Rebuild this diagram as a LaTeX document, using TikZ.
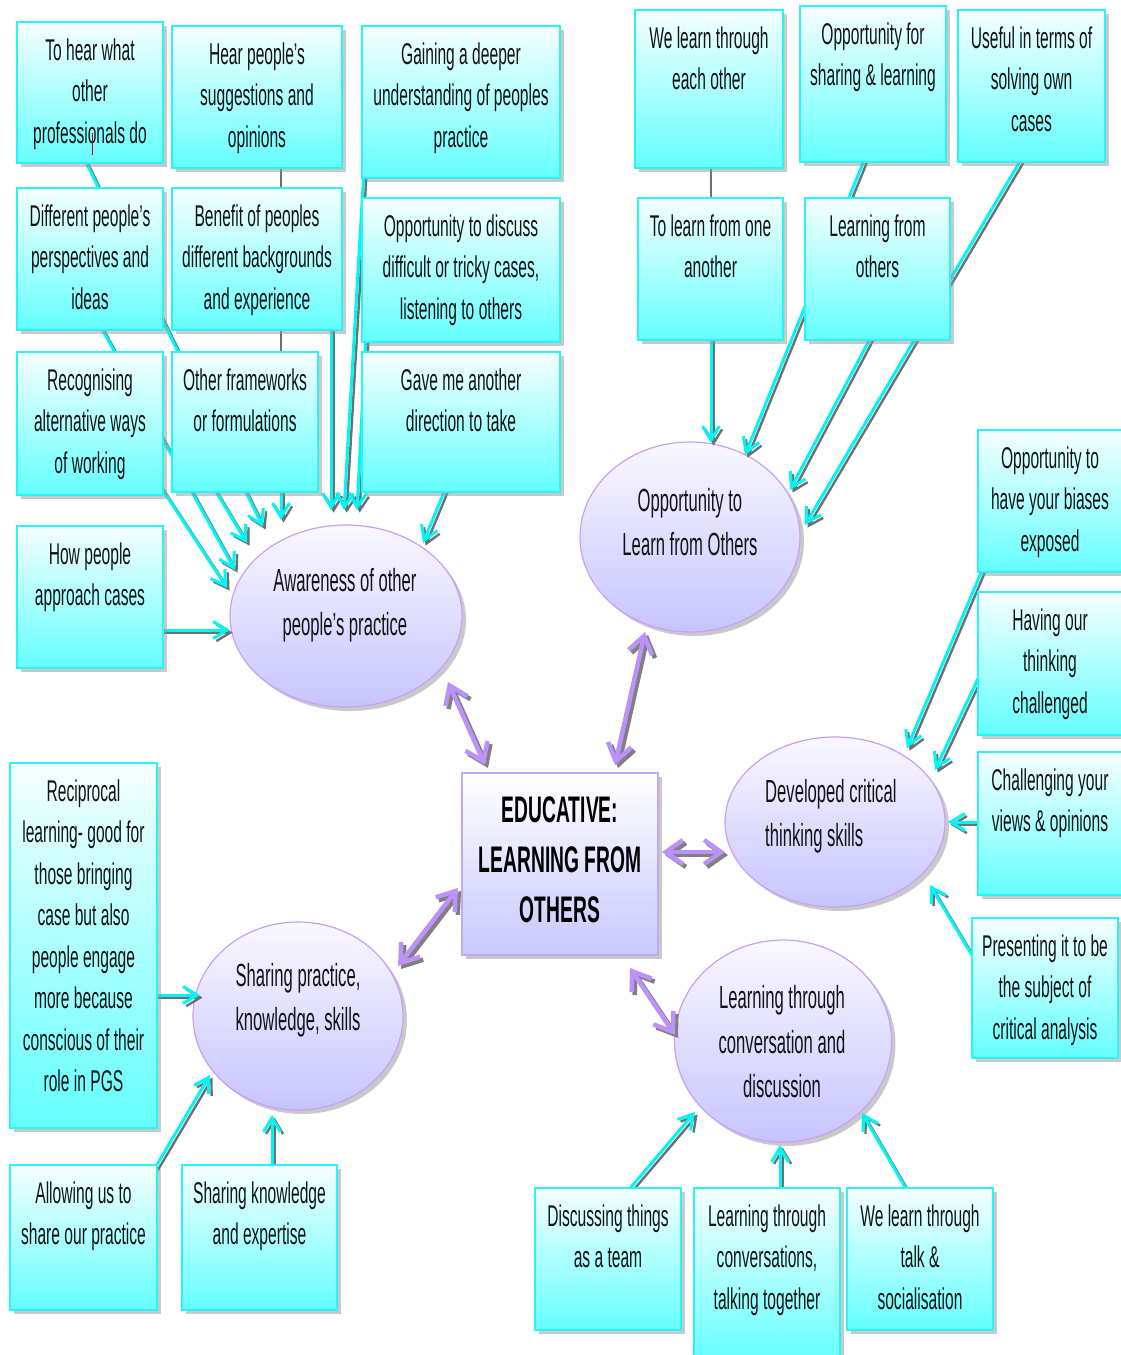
\documentclass[tikz,border=0pt]{standalone}
\usepackage{fontspec}
\newfontfamily\narrowsans{Liberation Sans}[FakeStretch=0.52]
\usetikzlibrary{arrows.meta,shadows,shapes.geometric}

\definecolor{boxtop}{RGB}{246,255,255}
\definecolor{boxbot}{RGB}{100,255,255}
\definecolor{boxline}{RGB}{40,245,245}
\definecolor{ovtop}{RGB}{250,248,255}
\definecolor{ovbot}{RGB}{198,196,255}
\definecolor{ovline}{RGB}{200,160,245}
\definecolor{hubtop}{RGB}{255,255,255}
\definecolor{hubbot}{RGB}{200,200,255}
\definecolor{hubline}{RGB}{196,168,240}
\definecolor{linkcol}{RGB}{0,245,245}
\definecolor{linkshade}{RGB}{112,112,112}
\definecolor{hubarrow}{RGB}{190,145,250}
\definecolor{ink}{RGB}{20,20,20}

\pgfdeclarelayer{ovals}
\pgfdeclarelayer{links}
\pgfsetlayers{ovals,links,main}

\tikzset{
  softshadow/.style={drop shadow={shadow xshift=4pt, shadow yshift=-4pt, fill=black!42}},
  cbox/.style={rectangle, draw=boxline, line width=1.6pt, top color=boxtop, bottom color=boxbot,
    inner sep=0pt, outer sep=0pt, anchor=north west, softshadow},
  oval/.style={ellipse, draw=ovline, line width=1.2pt, top color=ovtop, bottom color=ovbot,
    inner sep=0pt, outer sep=0pt, softshadow},
  hubbox/.style={rectangle, draw=hubline, line width=1.4pt, top color=hubtop, bottom color=hubbot,
    inner sep=0pt, outer sep=0pt, anchor=north west, softshadow},
  boxtext/.style={font=\narrowsans\fontsize{30}{41.5}\selectfont, text=ink, align=center,
    inner sep=0pt, anchor=north},
  ovaltext/.style={font=\narrowsans\fontsize{32}{44.5}\selectfont, text=ink, align=center, inner sep=0pt},
  hubtext/.style={font=\narrowsans\bfseries\fontsize{37}{50}\selectfont, text=black, align=center, inner sep=0pt},
  feed/.style={draw=linkcol, line width=3pt, -{Straight Barb[length=14pt,width=17pt]}},
  feedshade/.style={feed, draw=linkshade, line width=2.4pt, transform canvas={shift={(2.6pt,-2.6pt)}}},
  tie/.style={draw=linkshade, line width=2pt},
  twoway/.style={draw=hubarrow, line width=4.5pt,
    {Straight Barb[length=17pt,width=24pt]}-{Straight Barb[length=17pt,width=24pt]}},
  twowayshade/.style={twoway, draw=black!50, transform canvas={shift={(3pt,-3pt)}}},
}

% box: name, left, top, right, bottom, text
\newcommand\infobox[6]{%
  \node[cbox, minimum width={(#4-#2)*1pt}, minimum height={(#5-#3)*1pt}] (#1) at (#2,#3) {};
  \node[boxtext] (#1-t) at ([yshift=-15pt]#1.north) {\rule{0pt}{23pt}#6};
}
% cyan feeder arrow with its grey shadow
\newcommand\feedline[2]{%
  \draw[feedshade] #1 -- #2;
  \draw[feed] #1 -- #2;
}
% purple two-way arrow with its grey shadow
\newcommand\hublink[2]{%
  \draw[twowayshade] #1 -- #2;
  \draw[twoway] #1 -- #2;
}

\begin{document}
\begin{tikzpicture}[x=1pt,y=-1pt]
\useasboundingbox (0,0) rectangle (1121,1355);

% ---------- ovals ----------
\begin{pgfonlayer}{ovals}
\fill[white] (0,0) rectangle (1121,1355);
\node[oval, minimum width=232pt, minimum height=182pt] (aware) at (346,616) {};
\node[oval, minimum width=220pt, minimum height=190pt] (opp) at (690,537) {};
\node[oval, minimum width=220pt, minimum height=170pt] (crit) at (835,822) {};
\node[oval, minimum width=210pt, minimum height=188pt] (share) at (298,1016) {};
\node[oval, minimum width=217pt, minimum height=202pt] (conv) at (783,1041) {};

\node[ovaltext] (aware-t) at (345,605) {Awareness of other\\people’s practice};
\node[ovaltext] (opp-t) at (690,522) {Opportunity to\\Learn from Others};
\node[ovaltext, align=left, anchor=west] (crit-t) at (765,816) {Developed critical\\thinking skills};
\node[ovaltext] (share-t) at (298,1000) {Sharing practice,\\knowledge, skills};
\node[ovaltext] (conv-t) at (782,1042) {Learning through\\conversation and\\discussion};
\end{pgfonlayer}

% ---------- central box ----------
\node[hubbox, minimum width=196pt, minimum height=182pt] (hub) at (462,773) {};
\node[hubtext] (hub-t) at (560,860) {EDUCATIVE:\\LEARNING FROM\\OTHERS};

% ---------- boxes feeding "Awareness" ----------
\infobox{hearwhat}{17}{22}{163}{163}{To hear what\\other\\professionals do}
\infobox{hearsugg}{172}{26}{342}{168}{Hear people’s\\suggestions and\\opinions}
\infobox{gaining}{362}{26}{560}{178}{Gaining a deeper\\understanding of peoples\\practice}
\infobox{different}{17}{188}{163}{330}{Different people’s\\perspectives and\\ideas}
\infobox{benefit}{172}{188}{342}{330}{Benefit of peoples\\different backgrounds\\and experience}
\infobox{oppdiscuss}{362}{198}{560}{342}{Opportunity to discuss\\difficult or tricky cases,\\listening to others}
\infobox{recog}{17}{352}{163}{495}{Recognising\\alternative ways\\of working}
\infobox{frameworks}{172}{352}{318}{492}{Other frameworks\\or formulations}
\infobox{gaveme}{362}{352}{560}{492}{Gave me another\\direction to take}
\infobox{howpeople}{17}{526}{163}{668}{How people\\approach cases}

% ---------- boxes feeding "Opportunity to learn" ----------
\infobox{welearn}{635}{10}{783}{168}{We learn through\\each other}
\infobox{oppshare}{800}{6}{946}{162}{Opportunity for\\sharing \& learning}
\infobox{useful}{958}{10}{1105}{162}{Useful in terms of\\solving own\\cases}
\infobox{tolearn}{638}{198}{783}{340}{To learn from one\\another}
\infobox{learnothers}{805}{198}{950}{340}{Learning from\\others}

% ---------- boxes feeding "critical thinking" ----------
\infobox{biases}{978}{430}{1122}{572}{Opportunity to\\have your biases\\exposed}
\infobox{thinking}{978}{592}{1122}{735}{Having our\\thinking\\challenged}
\infobox{challenging}{978}{752}{1122}{895}{Challenging your\\views \& opinions}
\infobox{presenting}{972}{918}{1118}{1058}{Presenting it to be\\the subject of\\critical analysis}

% ---------- boxes feeding "Sharing practice" ----------
\infobox{reciprocal}{10}{763}{157}{1128}{Reciprocal\\learning- good for\\those bringing\\case but also\\people engage\\more because\\conscious of their\\role in PGS}
\infobox{allowing}{10}{1165}{157}{1310}{Allowing us to\\share our practice}
\infobox{sharingk}{182}{1165}{337}{1310}{Sharing knowledge\\and expertise}

% ---------- boxes feeding "conversation" ----------
\infobox{discussing}{535}{1188}{681}{1330}{Discussing things\\as a team}
\infobox{learnconv}{694}{1188}{840}{1362}{Learning through\\conversations,\\talking together}
\infobox{talk}{847}{1188}{993}{1330}{We learn through\\talk \&\\socialisation}

% text cursor mark left in the first box
\draw[red!85!black, line width=0.9pt] (92,133) -- (92,155);

% ---------- connectors ----------
\begin{pgfonlayer}{links}
% into "Awareness of other people's practice"
\feedline{([shift={(-5,67.5)}]hearwhat.center)}{([shift={(-83,-89)}]aware.center)}
\feedline{([shift={(-26,1)}]different.center)}{([shift={(-111,-46)}]aware.center)}
\feedline{([shift={(27,-3.5)}]recog.center)}{([shift={(-119,-28)}]aware.center)}
\draw[tie] ([shift={(24,63)}]hearsugg.center) -- ([shift={(24,-64)}]benefit.center);
\draw[tie] ([shift={(24,66)}]benefit.center) -- ([shift={(36,-64)}]frameworks.center);
\feedline{([shift={(36,63)}]frameworks.center)}{([shift={(-65,-96)}]aware.center)}
\feedline{([shift={(74,61)}]benefit.center)}{([shift={(-15,-106)}]aware.center)}
\feedline{([shift={(-42,48)}]frameworks.center)}{([shift={(-99,-73)}]aware.center)}
\feedline{([shift={(-97,68)}]gaining.center)}{([shift={(-2,-106)}]aware.center)}
\feedline{([shift={(-95,65)}]oppdiscuss.center)}{([shift={(11,-106)}]aware.center)}
\feedline{([shift={(-14,63)}]gaveme.center)}{([shift={(77,-73)}]aware.center)}
\feedline{([shift={(65,33)}]howpeople.center)}{([shift={(-116,14)}]aware.center)}

% into "Opportunity to Learn from Others"
\draw[tie] ([shift={(2,71)}]welearn.center) -- ([shift={(0.5,-64)}]tolearn.center);
\feedline{([shift={(0.5,66)}]tolearn.center)}{([shift={(21,-94)}]opp.center)}
\feedline{([shift={(-8,74)}]oppshare.center)}{([shift={(55,-82)}]opp.center)}
\feedline{([shift={(-5.5,66)}]learnothers.center)}{([shift={(100,-47)}]opp.center)}
\feedline{([shift={(-9.5,72)}]useful.center)}{([shift={(115,-12)}]opp.center)}

% into "Developed critical thinking skills"
\feedline{([shift={(-67,67)}]biases.center)}{([shift={(72,-74)}]crit.center)}
\feedline{([shift={(-67,4.5)}]thinking.center)}{([shift={(100,-52)}]crit.center)}
\feedline{([shift={(-64,-1.5)}]challenging.center)}{([shift={(113,0)}]crit.center)}
\feedline{([shift={(-69,-26)}]presenting.center)}{([shift={(95,63)}]crit.center)}

% into "Sharing practice, knowledge, skills"
\feedline{([shift={(66.5,49.5)}]reciprocal.center)}{([shift={(-98,-21)}]share.center)}
\feedline{([shift={(71.5,-69.5)}]allowing.center)}{([shift={(-88,59)}]share.center)}
\feedline{([shift={(12.5,-67.5)}]sharingk.center)}{([shift={(-26,99)}]share.center)}

% into "Learning through conversation and discussion"
\feedline{([shift={(19,-67)}]discussing.center)}{([shift={(-88,71)}]conv.center)}
\feedline{([shift={(13,-79.5)}]learnconv.center)}{([shift={(-3,104)}]conv.center)}
\feedline{([shift={(-12,-67)}]talk.center)}{([shift={(79,72)}]conv.center)}

% two-way links to the central box
\hublink{([shift={(102,66)}]aware.center)}{([shift={(-75,-99)}]hub.center)}
\hublink{([shift={(-45,95)}]opp.center)}{([shift={(55,-99)}]hub.center)}
\hublink{([shift={(102,-12)}]hub.center)}{([shift={(-110,30)}]crit.center)}
\hublink{([shift={(100,-50)}]share.center)}{([shift={(-102,24)}]hub.center)}
\hublink{([shift={(70,104)}]hub.center)}{([shift={(-108,-6)}]conv.center)}
\end{pgfonlayer}
\end{tikzpicture}
\end{document}
